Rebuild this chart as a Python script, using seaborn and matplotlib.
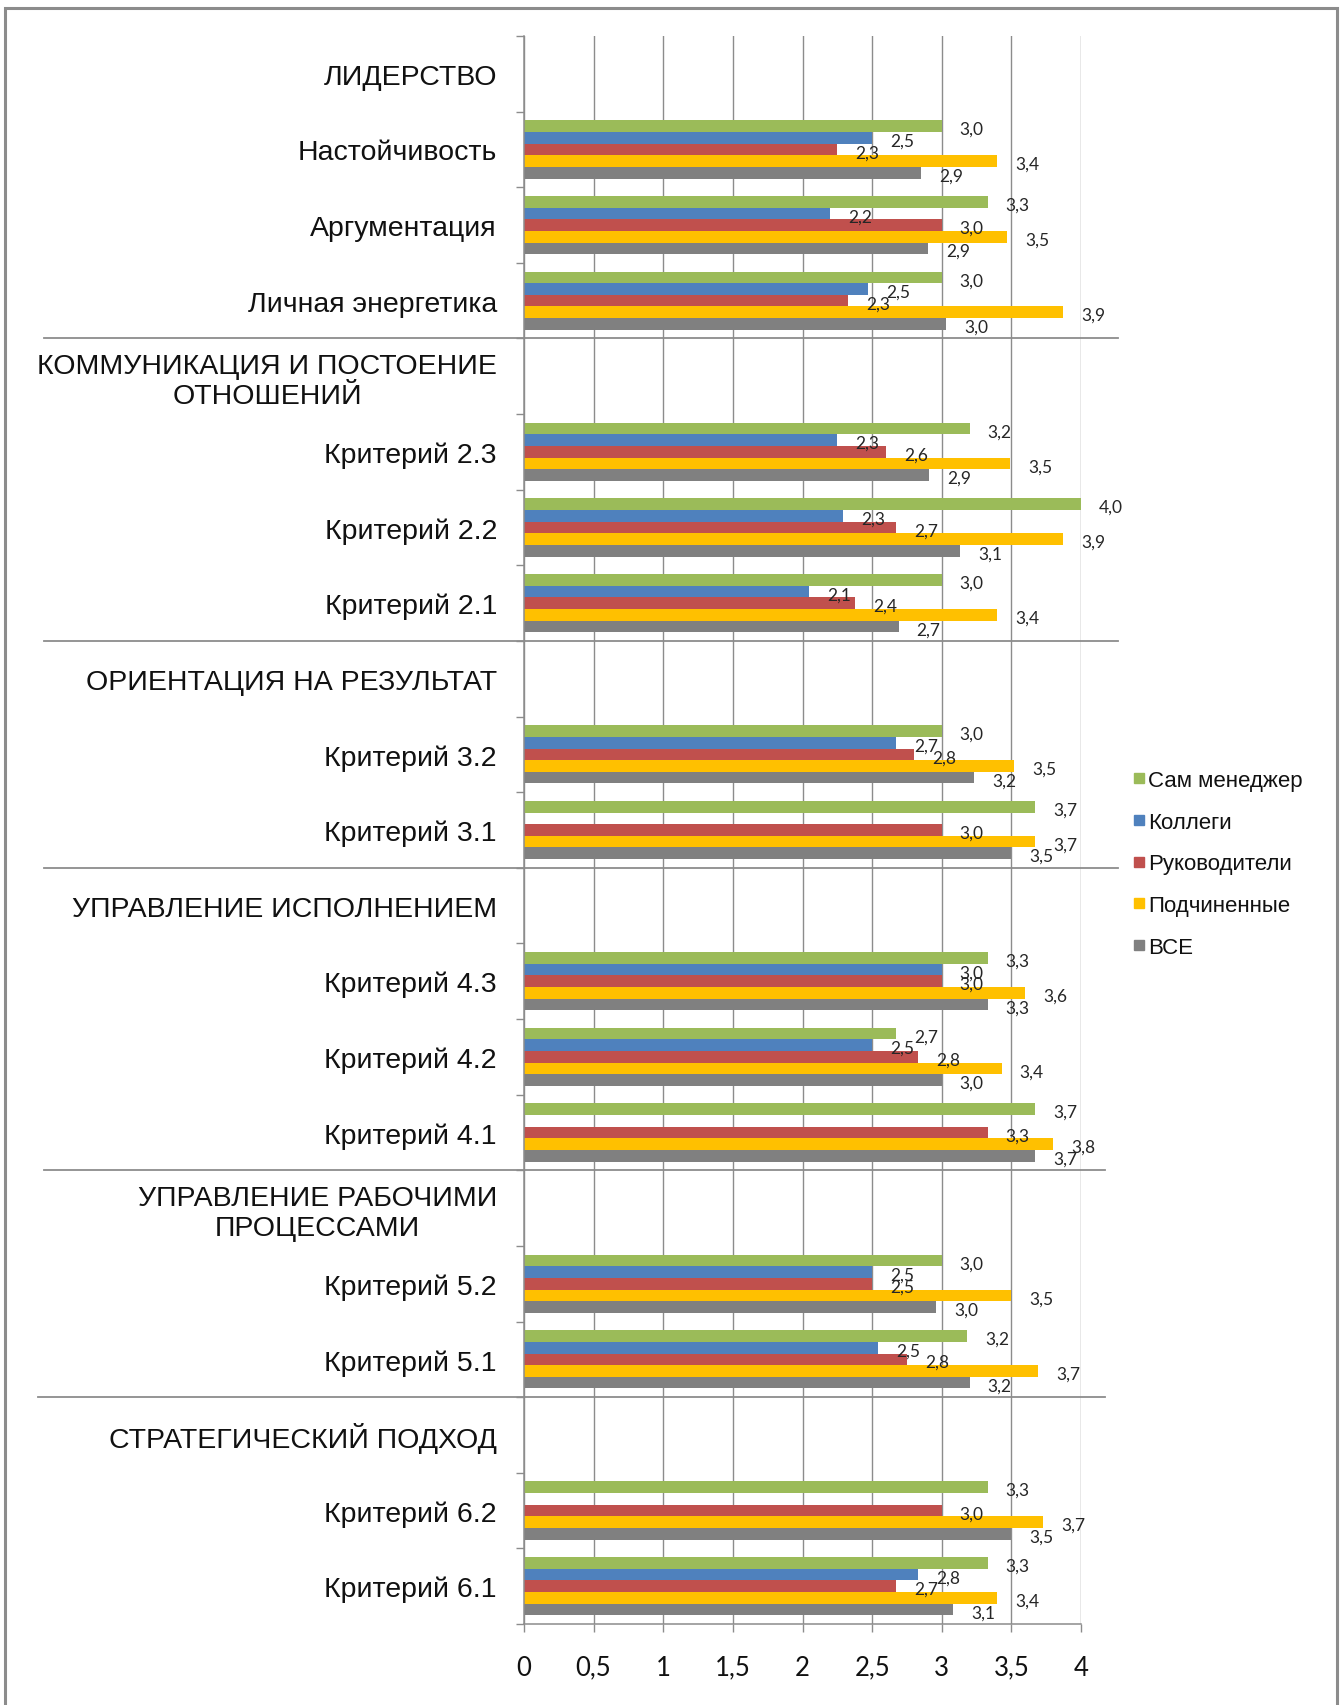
import numpy as np
import pandas as pd
import matplotlib
matplotlib.use("Agg")
import matplotlib.pyplot as plt
from matplotlib.lines import Line2D
from matplotlib.patches import Rectangle
from matplotlib.transforms import blended_transform_factory
from decimal import Decimal, ROUND_HALF_UP
import seaborn as sns

nan = np.nan

# Competency blocks (upper-case headers) followed by their criteria
categories = [
    "ЛИДЕРСТВО", "Настойчивость", "Аргументация", "Личная энергетика",
    "КОММУНИКАЦИЯ И ПОСТОЕНИЕ\nОТНОШЕНИЙ", "Критерий 2.3", "Критерий 2.2", "Критерий 2.1",
    "ОРИЕНТАЦИЯ НА РЕЗУЛЬТАТ", "Критерий 3.2", "Критерий 3.1",
    "УПРАВЛЕНИЕ ИСПОЛНЕНИЕМ", "Критерий 4.3", "Критерий 4.2", "Критерий 4.1",
    "УПРАВЛЕНИЕ РАБОЧИМИ\nПРОЦЕССАМИ", "Критерий 5.2", "Критерий 5.1",
    "СТРАТЕГИЧЕСКИЙ ПОДХОД", "Критерий 6.2", "Критерий 6.1",
]

series_names = ["Сам менеджер", "Коллеги", "Руководители", "Подчиненные", "ВСЕ"]
series_colors = ["#9BBB59", "#4F81BD", "#C0504D", "#FFC000", "#808080"]

self_manager = [nan, 3.0, 3.33, 3.0, nan, 3.2, 4.0, 3.0, nan, 3.0, 3.67,
                nan, 3.33, 2.67, 3.67, nan, 3.0, 3.18, nan, 3.33, 3.33]
colleagues = [nan, 2.5, 2.2, 2.47, nan, 2.25, 2.29, 2.05, nan, 2.67, nan,
              nan, 3.0, 2.5, nan, nan, 2.5, 2.54, nan, nan, 2.83]
managers = [nan, 2.25, 3.0, 2.33, nan, 2.6, 2.67, 2.38, nan, 2.8, 3.0,
            nan, 3.0, 2.83, 3.33, nan, 2.5, 2.75, nan, 3.0, 2.67]
subordinates = [nan, 3.4, 3.47, 3.87, nan, 3.49, 3.87, 3.4, nan, 3.52, 3.67,
                nan, 3.6, 3.43, 3.8, nan, 3.5, 3.69, nan, 3.73, 3.4]
everyone = [nan, 2.85, 2.9, 3.03, nan, 2.91, 3.13, 2.69, nan, 3.23, 3.5,
            nan, 3.33, 3.0, 3.67, nan, 2.96, 3.2, nan, 3.5, 3.08]

x_ticks = [0, 0.5, 1, 1.5, 2, 2.5, 3, 3.5, 4]

# Long-form table for seaborn
series_values = [self_manager, colleagues, managers, subordinates, everyone]
rows = []
for name, vals in zip(series_names, series_values):
    for cat, v in zip(categories, vals):
        rows.append({"category": cat, "series": name, "value": v})
df = pd.DataFrame(rows).dropna()

W, H = 1342, 1706
fig = plt.figure(figsize=(W / 100, H / 100), dpi=100)
fig.patch.set_facecolor("white")

ax_left, ax_right, ax_top, ax_bottom = 524, 1081, 37, 1625
ax = fig.add_axes([ax_left / W, 1 - ax_bottom / H,
                   (ax_right - ax_left) / W, (ax_bottom - ax_top) / H])

sns.barplot(data=df, x="value", y="category", hue="series",
            order=categories, hue_order=series_names,
            palette=series_colors, orient="h", width=0.77,
            errorbar=None, saturation=1, legend=False, ax=ax)

ax.set_xlim(0, 4)
ax.set_ylim(len(categories) - 0.5, -0.5)
ax.set_xlabel("")
ax.set_ylabel("")

grid_color = "#8c8c8c"
ax.set_axisbelow(True)
ax.xaxis.grid(True, color=grid_color, linewidth=1.0)
ax.yaxis.grid(False)
for side in ("top", "right"):
    ax.spines[side].set_visible(False)
for side in ("left", "bottom"):
    ax.spines[side].set_color(grid_color)
    ax.spines[side].set_linewidth(1.1)

# x axis: comma decimal separator
ax.set_xticks(x_ticks)
ax.set_xticklabels([f"{t:g}".replace(".", ",") for t in x_ticks],
                   fontfamily="Lato", fontsize=18.5, color="#111111")
ax.tick_params(axis="x", direction="out", length=6, width=1.0,
               color=grid_color, pad=16)

# y axis: labels centred on categories, tick marks at category boundaries
ax.set_yticks(range(len(categories)))
ax.set_yticklabels(categories, fontfamily="Liberation Sans", fontsize=20.5,
                   color="#111111")
for lbl in ax.get_yticklabels():
    lbl.set_multialignment("center")
ax.set_yticks(np.arange(-0.5, len(categories), 1.0), minor=True)
ax.tick_params(axis="y", which="major", length=0, pad=19.5)
ax.tick_params(axis="y", which="minor", direction="out", length=6,
               width=1.0, color=grid_color)


def fmt_value(v):
    d = Decimal(str(round(v, 6))).quantize(Decimal("0.1"), rounding=ROUND_HALF_UP)
    return str(d).replace(".", ",")


# Value labels at the end of every bar
for container in ax.containers:
    for rect in container:
        w = rect.get_width()
        if not np.isfinite(w) or w <= 0:
            continue
        yc = rect.get_y() + rect.get_height() / 2
        ax.annotate(fmt_value(w), xy=(w, yc), xytext=(13, -2.0),
                    textcoords="offset points", ha="left", va="center",
                    fontfamily="Lato", fontsize=12.5, color="#262626",
                    annotation_clip=False)

# Separator lines between competency blocks
sep_trans = blended_transform_factory(fig.transFigure, ax.transData)
separators = [(3.5, 44, 1118), (7.5, 44, 1118), (10.5, 44, 1118),
              (14.5, 44, 1105), (17.5, 38, 1105)]
for yb, x0, x1 in separators:
    fig.add_artist(Line2D([x0 / W, x1 / W], [yb, yb], transform=sep_trans,
                          color=grid_color, linewidth=1.3))

# Legend
handles = [Line2D([], [], marker="s", linestyle="none", markersize=6.5,
                  markerfacecolor=c, markeredgecolor=c) for c in series_colors]
fig.legend(handles, series_names, loc="upper left",
           bbox_to_anchor=(1132 / W, 1 - 771 / H), frameon=False,
           prop={"family": "Liberation Sans", "size": 16},
           handlelength=0.6, handletextpad=0.12, labelspacing=0.93,
           borderaxespad=0, borderpad=0, labelcolor="#111111")

# Chart border
fig.add_artist(Rectangle((5 / W, -0.02), (1337 - 5) / W, 1 - 9 / H + 0.02,
                         transform=fig.transFigure, fill=False,
                         edgecolor="#8c8c8c", linewidth=2.2))

fig.savefig("out.png", dpi=100, facecolor="white")
